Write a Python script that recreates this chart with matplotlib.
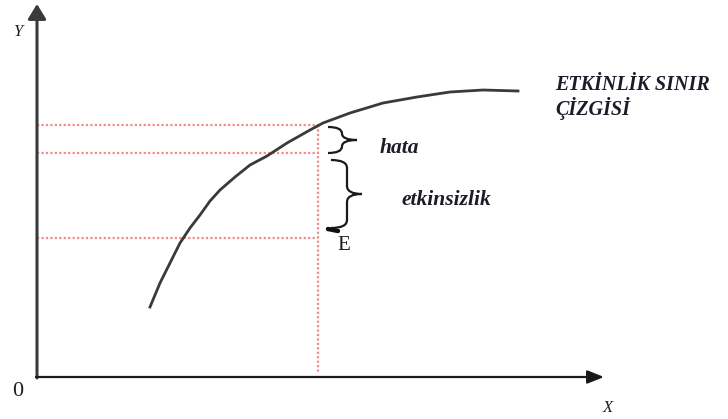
import numpy as np
import matplotlib.pyplot as plt
from matplotlib.path import Path
from matplotlib.patches import PathPatch

# frontier curve (pixel coords, y downward)
curve_x = [150, 160, 170, 180, 190, 200, 210, 220, 235, 250, 267, 287, 310,
           323, 350, 383, 417, 450, 483, 518]
curve_y = [307, 283, 263, 243, 228, 215, 201, 190, 177, 165, 156, 143, 130,
           123, 113, 103, 97, 92, 90, 91]

# red dotted guide lines
guide_y = [125, 153, 238]
guide_x0 = 37
guide_x1 = 318
vert_y = [125, 372]

# braces: (x_left, x_mid, x_tip, y_top, y_bottom)
braces = [(328, 342, 357, 127, 153), (331, 347, 362, 160, 228)]
brace_labels = ['hata', 'etkinsizlik']
brace_label_pos = [(380, 148), (401, 200)]

frontier_label = ['ETKİNLİK SINIR', 'ÇİZGİSİ']

W, H = 728, 419
fig = plt.figure(figsize=(W / 100, H / 100), dpi=100)
ax = fig.add_axes([0, 0, 1, 1])
ax.set_xlim(0, W)
ax.set_ylim(H, 0)
ax.axis('off')

serif = 'Liberation Serif'
txtc = '#1c1c28'

# axes with arrows
ax.annotate('', xy=(37, 4), xytext=(37, 378),
            arrowprops=dict(arrowstyle='-|>,head_length=0.9,head_width=0.55',
                            color='#3a3a3a', lw=2.2, shrinkA=0, shrinkB=0))
ax.annotate('', xy=(604, 377), xytext=(36, 377),
            arrowprops=dict(arrowstyle='-|>,head_length=1.0,head_width=0.4',
                            color='#1a1a1a', lw=1.6, shrinkA=0, shrinkB=0))

# guides
red = '#f58a8a'
for gy in guide_y:
    ax.plot([guide_x0, guide_x1], [gy, gy], color=red, lw=1.6,
            linestyle=(0, (1, 1)))
ax.plot([guide_x1, guide_x1], vert_y, color=red, lw=1.6, linestyle=(0, (1, 1)))

# frontier
ax.plot(curve_x, curve_y, color='#3a3a3a', lw=2.0, solid_joinstyle='round')


def brace(ax, xl, xm, xt, y0, y1):
    ym = (y0 + y1) / 2
    r = min((y1 - y0) / 4, 8)
    verts = [(xl, y0), (xm, y0), (xm, y0 + r),
             (xm, ym - r), (xm, ym), (xt, ym),
             (xm, ym), (xm, ym + r),
             (xm, y1 - r), (xm, y1), (xl, y1)]
    codes = [Path.MOVETO, Path.CURVE3, Path.CURVE3,
             Path.LINETO, Path.CURVE3, Path.CURVE3,
             Path.CURVE3, Path.CURVE3,
             Path.LINETO, Path.CURVE3, Path.CURVE3]
    ax.add_patch(PathPatch(Path(verts, codes), fill=False, lw=1.6,
                           edgecolor='#1a1a1a'))


for b in braces:
    brace(ax, *b)

for lab, (lx, ly) in zip(brace_labels, brace_label_pos):
    ax.text(lx, ly, lab, family=serif, style='italic', weight='bold',
            fontsize=15.5, color=txtc, va='center', ha='left')

# point E
ax.plot([328, 338], [229, 231], color='#111111', lw=3.2, solid_capstyle='round')
ax.text(337, 245, 'E', family=serif, fontsize=15, color=txtc,
        va='center', ha='left')

ax.text(555, 85, frontier_label[0], family=serif, style='italic', weight='bold',
        fontsize=14.5, color=txtc, va='center', ha='left')
ax.text(555, 108, frontier_label[1], family=serif, style='italic', weight='bold',
        fontsize=14.5, color=txtc, va='center', ha='left')

ax.text(18, 32, 'Y', family=serif, style='italic', fontsize=12, color=txtc,
        va='center', ha='center')
ax.text(608, 408, 'X', family=serif, style='italic', fontsize=12, color=txtc,
        va='center', ha='center')
ax.text(18, 391, '0', family=serif, fontsize=16, color=txtc,
        va='center', ha='center')

fig.savefig('out.png', dpi=100, facecolor='white')
